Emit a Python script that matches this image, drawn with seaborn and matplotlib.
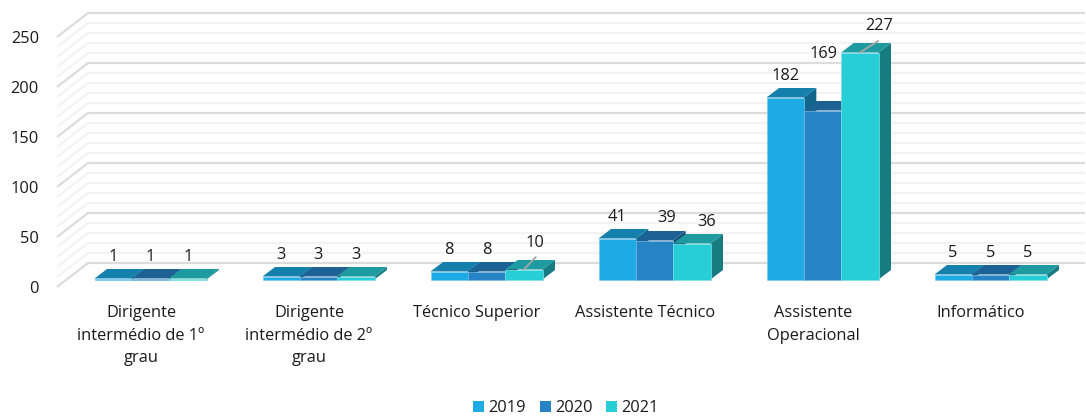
import numpy as np
import pandas as pd
import matplotlib
matplotlib.use("Agg")
import matplotlib.pyplot as plt
from matplotlib.collections import LineCollection
from matplotlib.colors import to_rgb
from matplotlib.patches import Polygon
from matplotlib.transforms import ScaledTranslation
import seaborn as sns

categories = ["Dirigente\nintermédio de 1º\ngrau", "Dirigente\nintermédio de 2º\ngrau",
              "Técnico Superior", "Assistente Técnico", "Assistente\nOperacional", "Informático"]
years = ["2019", "2020", "2021"]
values_2019 = [1, 3, 8, 41, 182, 5]
values_2020 = [1, 3, 8, 39, 169, 5]
values_2021 = [1, 3, 10, 36, 227, 5]
colors = ["#1DABE6", "#2683C6", "#27CED7"]

W, H, DPI = 1086, 417, 100
sns.set_theme(style="white")
plt.rcParams["font.family"] = ["Open Sans", "DejaVu Sans"]
FS = 11.8
TXT = "#1a1a1a"

df = pd.DataFrame({
    "categoria": categories * 3,
    "ano": sum([[y] * len(categories) for y in years], []),
    "valor": values_2019 + values_2020 + values_2021,
})

fig = plt.figure(figsize=(W / DPI, H / DPI), dpi=DPI)
BASE_Y, LEFT_X = 279.5, 57
ax = fig.add_axes([LEFT_X / W, (H - BASE_Y) / H, (W - LEFT_X) / W, BASE_Y / H])
ax.patch.set_alpha(0)

sns.barplot(data=df, x="categoria", y="valor", hue="ano", palette=colors,
            width=112 / 168, gap=0, saturation=1, ax=ax, legend=False, errorbar=None)

PX = 1 / 168                 # category units per pixel
to_x = lambda px: (px - 150.5) * PX
ax.set_xlim(to_x(LEFT_X), to_x(W))
ax.set_ylim(0, BASE_Y)

# walls of the 3-D box (1 value unit = 1 pixel)
back_rise, front_drop = 16.5, 7.5
for step, col, lw, z in [(10, "#F3F3F3", 1.6, 0.1), (50, "#DCDCDC", 1.5, 0.2)]:
    segs = []
    for v in np.arange(0, 251, step):
        segs.append([(to_x(LEFT_X), v - front_drop), (to_x(88), v + back_rise), (to_x(1085), v + back_rise)])
    ax.add_collection(LineCollection(segs, colors=col, linewidths=lw, zorder=z, clip_on=False))

# depth of the bars: side and top faces are derived from each bar
dx, dy = 12.5 * PX, 9.5
bars = sorted(ax.patches, key=lambda b: b.get_x())
z = 2.0
for b in bars:
    x, w, h = b.get_x(), b.get_width(), b.get_height()
    rgb = np.array(to_rgb(b.get_facecolor()))
    b.set_edgecolor(rgb * 0.6 + 0.4)
    b.set_linewidth(0.5)
    b.set_clip_on(False)
    b.set_zorder(z + 0.2)
    ax.add_patch(Polygon([(x + w, 0), (x + w, h), (x + w + dx, h + dy), (x + w + dx, dy)],
                         closed=True, fc=rgb * 0.6, ec="none", zorder=z, clip_on=False))
    ax.add_patch(Polygon([(x, h), (x + w, h), (x + w + dx, h + dy), (x + dx, h + dy)],
                         closed=True, fc=rgb * 0.75, ec="none", zorder=z + 0.1, clip_on=False))
    z += 1

# data labels: offset from the bar top, in pixels (bars sorted left to right)
label_nudge = {(2, 2): (11.5, 26.5), (3, 1): (12.5, 22.5), (3, 2): (15, 21.5),
               (4, 1): (1, 56), (4, 2): (19, 26)}
leaders = {(2, 2), (4, 2)}
for i, b in enumerate(bars):
    g, s = i // 3, i % 3
    cx, h = b.get_x() + b.get_width() / 2, b.get_height()
    nx, ny = label_nudge.get((g, s), (0, 21.7))
    ax.annotate(f"{h:.0f}", xy=(cx, h), xytext=(nx, ny), textcoords="offset pixels",
                ha="center", va="center", fontsize=FS, color=TXT, zorder=200, annotation_clip=False)
    if (g, s) in leaders:
        lx, ly = (12, 12.5) if g == 2 else (18.5, 11.5)
        ax.plot([cx, cx + lx * PX], [h, h + ly], color="#A6A6A6", lw=1.3, zorder=150, clip_on=False)

ax.set_xlabel("")
ax.set_ylabel("")
ax.set_yticks(np.arange(0, 251, 50))
ax.set_xticks(range(len(categories)), categories)
ax.tick_params(axis="both", length=0, labelsize=FS, labelcolor=TXT)
ax.tick_params(axis="y", pad=13)
ax.tick_params(axis="x", pad=18.5)
sns.despine(ax=ax, left=True, bottom=True)
for t in ax.get_yticklabels():
    t.set_transform(t.get_transform() + ScaledTranslation(0, -front_drop / DPI, fig.dpi_scale_trans))
for t in ax.get_xticklabels():
    t.set_transform(t.get_transform() + ScaledTranslation(-9.5 / DPI, 0, fig.dpi_scale_trans))
    t.set_linespacing(1.55)

handles = [plt.Rectangle((0, 0), 1, 1, fc=c, ec="none") for c in colors]
fig.legend(handles, years, loc="center", bbox_to_anchor=(566 / W, (H - 408) / H), ncol=3, frameon=False,
           fontsize=FS, handlelength=0.67, handleheight=0.67, handletextpad=0.25, columnspacing=0.85,
           labelcolor=TXT, borderpad=0, borderaxespad=0)

fig.savefig("out.png", dpi=DPI)
